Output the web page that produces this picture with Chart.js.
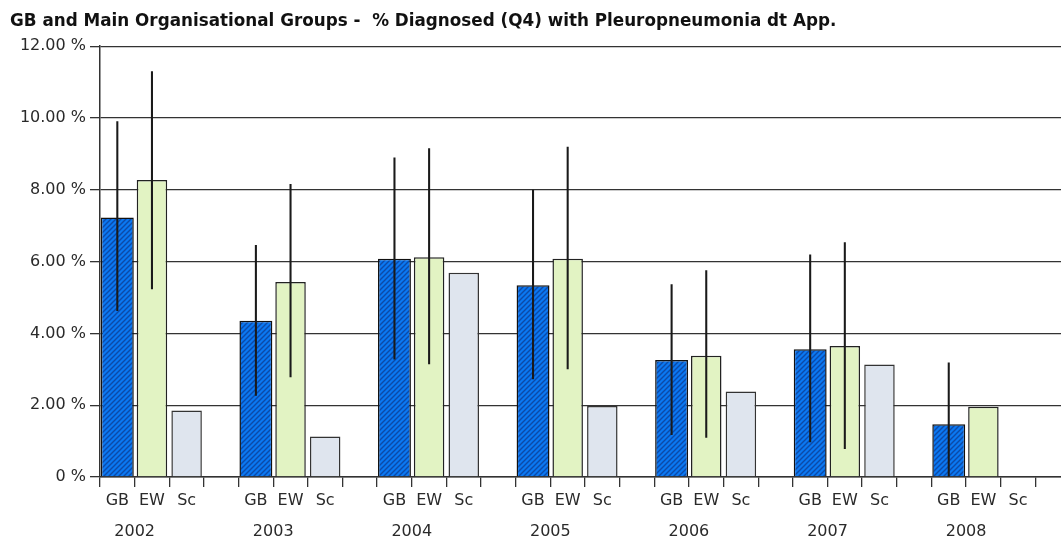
<!DOCTYPE html>
<html>
<head>
<meta charset="utf-8">
<script src="https://cdn.jsdelivr.net/npm/chart.js@4"></script>
<style>
  html, body { margin: 0; padding: 0; background: #ffffff; overflow: hidden; }
  #wrap { width: 1061px; height: 541px; overflow: hidden; }
  canvas { display: block; }
</style>
</head>
<body>
<div id="wrap"><canvas id="chart" width="1070" height="541"></canvas></div>
<script>
// Survey years and the three reporting groups within each year
const years = ['2002', '2003', '2004', '2005', '2006', '2007', '2008'];
const groups = ['GB', 'EW', 'Sc'];

// % diagnosed with pleuropneumonia (Q4)
const gbValues = [7.23, 4.35, 6.08, 5.34, 3.26, 3.56, 1.47];
const ewValues = [8.27, 5.43, 6.12, 6.08, 3.38, 3.65, 1.96];
const scValues = [1.85, 1.13, 5.69, 1.98, 2.38, 3.13, null];

// Confidence intervals (low / high)
const gbLow  = [4.63, 2.27, 3.28, 2.73, 1.18, 0.98, 0.00];
const gbHigh = [9.90, 6.45, 8.89, 7.99, 5.36, 6.19, 3.18];
const ewLow  = [5.24, 2.79, 3.15, 3.01, 1.10, 0.79, null];
const ewHigh = [11.29, 8.15, 9.15, 9.19, 5.75, 6.53, null];

const yTicks = [0, 2, 4, 6, 8, 10, 12];

// Each year takes four slots: GB, EW, Sc and an empty spacer
const SLOTS = groups.length + 1;
const slotLabels = [];
years.forEach(() => { groups.forEach(g => slotLabels.push(g)); slotLabels.push(''); });
const yearLabels = [];
years.forEach(y => { yearLabels.push(y); yearLabels.push(''); });

function placeSeries(values, offset) {
  const out = new Array(years.length * SLOTS).fill(null);
  values.forEach((v, i) => { out[i * SLOTS + offset] = v; });
  return out;
}
function placeRange(lo, hi, offset) {
  const out = new Array(years.length * SLOTS).fill(null);
  lo.forEach((l, i) => {
    if (l !== null && hi[i] !== null) out[i * SLOTS + offset] = [l, hi[i]];
  });
  return out;
}

// Diagonal hatch fill for the GB bars
function hatchPattern() {
  const s = 5;
  const c = document.createElement('canvas');
  c.width = s; c.height = s;
  const x = c.getContext('2d');
  x.fillStyle = '#0b78f2';
  x.fillRect(0, 0, s, s);
  x.strokeStyle = '#0c4aa8';
  x.lineWidth = 1.4;
  x.beginPath();
  x.moveTo(-1, s + 1); x.lineTo(s + 1, -1);
  x.moveTo(-1, 1); x.lineTo(1, -1);
  x.moveTo(s - 1, s + 1); x.lineTo(s + 1, s - 1);
  x.stroke();
  return x.createPattern(c, 'repeat');
}

const ctx = document.getElementById('chart').getContext('2d');
const lineCol = '#333333';
const textCol = '#2a2a2a';

new Chart(ctx, {
  type: 'bar',
  data: {
    labels: slotLabels,
    datasets: [
      {
        label: 'GB CI', data: placeRange(gbLow, gbHigh, 0),
        backgroundColor: '#1a1a1a', borderWidth: 0, barThickness: 1.4, order: 0
      },
      {
        label: 'EW CI', data: placeRange(ewLow, ewHigh, 1),
        backgroundColor: '#1a1a1a', borderWidth: 0, barThickness: 1.4, order: 0
      },
      {
        label: 'GB', data: placeSeries(gbValues, 0),
        backgroundColor: hatchPattern(), borderColor: '#111111', borderWidth: 1.5,
        barPercentage: 0.95, order: 1
      },
      {
        label: 'EW', data: placeSeries(ewValues, 1),
        backgroundColor: '#e2f3c3', borderColor: '#222222', borderWidth: 1.5,
        barPercentage: 0.88, order: 1
      },
      {
        label: 'Sc', data: placeSeries(scValues, 2),
        backgroundColor: '#dfe5ee', borderColor: '#333333', borderWidth: 1.5,
        barPercentage: 0.88, order: 1
      }
    ]
  },
  options: {
    responsive: false,
    animation: false,
    grouped: false,
    layout: { padding: { left: 10, right: 0, top: 0, bottom: 0 } },
    plugins: {
      legend: { display: false },
      tooltip: { enabled: false },
      title: {
        display: true,
        text: 'GB and Main Organisational Groups -  % Diagnosed (Q4) with Pleuropneumonia dt App.',
        align: 'start',
        color: '#111111',
        font: { family: 'DejaVu Sans', size: 16.8, weight: 'bold', lineHeight: 1.2 },
        padding: { top: 12, bottom: 14 }
      }
    },
    datasets: { bar: { categoryPercentage: 1.0, grouped: false } },
    scales: {
      x: {
        type: 'category',
        position: 'bottom',
        offset: true,
        grid: {
          display: true, offset: true, drawOnChartArea: false, drawTicks: true,
          tickLength: 10, color: lineCol, lineWidth: 1.3
        },
        border: { display: true, color: lineCol, width: 1.5 },
        ticks: {
          autoSkip: false, maxRotation: 0, minRotation: 0, padding: 4,
          color: textCol, font: { family: 'DejaVu Sans', size: 16 }
        },
        afterFit: s => { s.height = 32; }
      },
      x2: {
        type: 'category',
        position: 'bottom',
        labels: yearLabels,
        offset: true,
        grid: { display: false, drawTicks: false },
        border: { display: false },
        ticks: {
          autoSkip: false, maxRotation: 0, minRotation: 0, padding: 13,
          color: textCol, font: { family: 'DejaVu Sans', size: 16 }
        },
        afterFit: s => { s.height = 32; }
      },
      y: {
        min: 0, max: 12,
        afterBuildTicks: s => { s.ticks = yTicks.map(v => ({ value: v })); },
        grid: {
          display: true, drawOnChartArea: true, drawTicks: true,
          tickLength: 10, color: lineCol, lineWidth: 1.3
        },
        border: { display: true, color: lineCol, width: 1.5 },
        ticks: {
          padding: 4, color: textCol, font: { family: 'DejaVu Sans', size: 16 },
          callback: v => v === 0 ? '0 %' : v.toFixed(2) + ' %'
        },
        afterFit: s => { s.width = 90; }
      }
    }
  }
});
</script>
</body>
</html>
